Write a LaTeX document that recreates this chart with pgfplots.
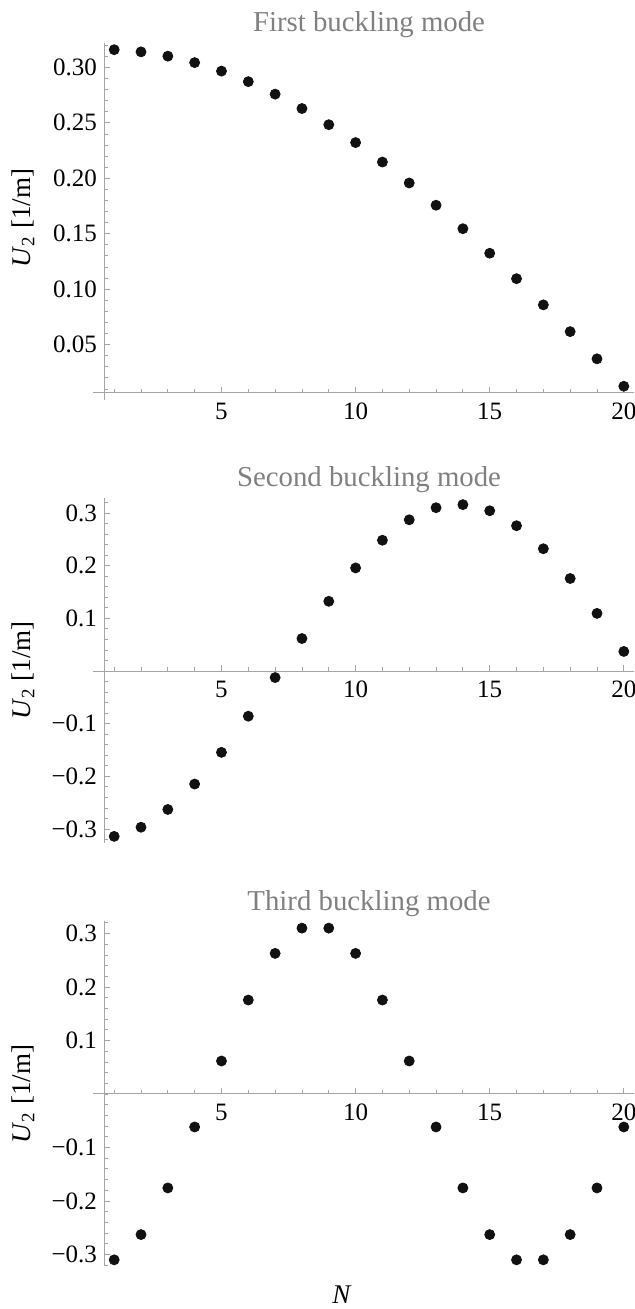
\documentclass[border=0pt]{standalone}
\usepackage{fontspec}
\setmainfont{Liberation Serif}
\usepackage{pgfplots}
\pgfplotsset{compat=1.18}
\definecolor{axgray}{RGB}{165,165,165}
\definecolor{titlegray}{RGB}{128,128,128}
\definecolor{dotblack}{RGB}{17,17,17}
\pgfplotsset{
  dots/.style={draw=dotblack, only marks, mark=*, mark size=2.5pt, mark options={fill=dotblack, draw=dotblack}},
  mma/.style={
    scale only axis, width=265pt,
    xmin=0.62, xmax=20.38,
    axis y line*=left,
    axis line style={axgray, line width=0.5pt},
    x axis line style={shorten <=-5.5pt},
    every tick/.style={axgray, line width=0.4pt},
    every minor tick/.style={axgray, line width=0.4pt},
    tick align=inside,
    major tick length=3pt, minor tick length=1.8pt,
    xtick={5,10,15,20}, xticklabels={5,10,15,20},
    minor xtick={1,...,20},
    tick label style={font=\fontsize{12.5}{14}\selectfont, text=black},
    xticklabel style={yshift=-1.5pt},
    title style={font=\fontsize{14.4}{16}\selectfont, text=titlegray, anchor=center, yshift=3pt},
    ylabel={\textit{U}\textsubscript{2} [1/m]},
    ylabel style={font=\fontsize{13.5}{15}\selectfont, at={(axis description cs:-0.153,0.5)}, anchor=center},
    clip=false,
  }
}
\begin{document}
\begin{tikzpicture}
\useasboundingbox (0,0) rectangle (317.5pt,654.5pt);
% ---------- First mode
\begin{axis}[mma, at={(52pt,458pt)}, anchor=south west, height=175pt,
  axis x line*=bottom, ymin=0.00635, ymax=0.32205,
  y axis line style={shorten <=-3.5pt},
  ytick={0.05,0.10,0.15,0.20,0.25,0.30},
  yticklabels={0.05,0.10,0.15,0.20,0.25,0.30},
  minor ytick={0.01,0.02,...,0.32},
  title={First buckling mode}]
\addplot[dots] coordinates {
(1,0.31598) (2,0.31404) (3,0.31015) (4,0.30435) (5,0.29668)
(6,0.28718) (7,0.27591) (8,0.26293) (9,0.24834) (10,0.23221)
(11,0.21465) (12,0.19577) (13,0.17569) (14,0.15452) (15,0.13239)
(16,0.10945) (17,0.08584) (18,0.06169) (19,0.03717) (20,0.01242)};
\end{axis}
% ---------- Second mode
\begin{axis}[mma, at={(52pt,233pt)}, anchor=south west, height=172.5pt,
  axis x line*=middle, ymin=-0.3266, ymax=0.3286,
  ytick={-0.3,-0.2,-0.1,0.1,0.2,0.3},
  yticklabels={−0.3,−0.2,−0.1,0.1,0.2,0.3},
  minor ytick={-0.32,-0.30,...,0.321},
  title={Second buckling mode}]
\addplot[dots] coordinates {
(1,-0.31404) (2,-0.29668) (3,-0.26293) (4,-0.21465) (5,-0.15452)
(6,-0.08584) (7,-0.01242) (8,0.06169) (9,0.13239) (10,0.19577)
(11,0.24834) (12,0.28718) (13,0.31015) (14,0.31598) (15,0.30435)
(16,0.27591) (17,0.23221) (18,0.17569) (19,0.10945) (20,0.03717)};
\end{axis}
% ---------- Third mode
\begin{axis}[mma, at={(52pt,21.25pt)}, anchor=south west, height=172.5pt,
  axis x line*=middle, ymin=-0.3226, ymax=0.3226,
  ytick={-0.3,-0.2,-0.1,0.1,0.2,0.3},
  yticklabels={−0.3,−0.2,−0.1,0.1,0.2,0.3},
  minor ytick={-0.32,-0.30,...,0.321},
  title={Third buckling mode},
  xlabel={\textit{N}},
  xlabel style={font=\fontsize{13.5}{15}\selectfont, at={(axis description cs:0.449,-0.083)}, anchor=center}]
\addplot[dots] coordinates {
(1,-0.31015) (2,-0.26293) (3,-0.17569) (4,-0.06169) (5,0.06169)
(6,0.17569) (7,0.26293) (8,0.31015) (9,0.31015) (10,0.26293)
(11,0.17569) (12,0.06169) (13,-0.06169) (14,-0.17569) (15,-0.26293)
(16,-0.31015) (17,-0.31015) (18,-0.26293) (19,-0.17569) (20,-0.06169)};
\end{axis}
\end{tikzpicture}
\end{document}
